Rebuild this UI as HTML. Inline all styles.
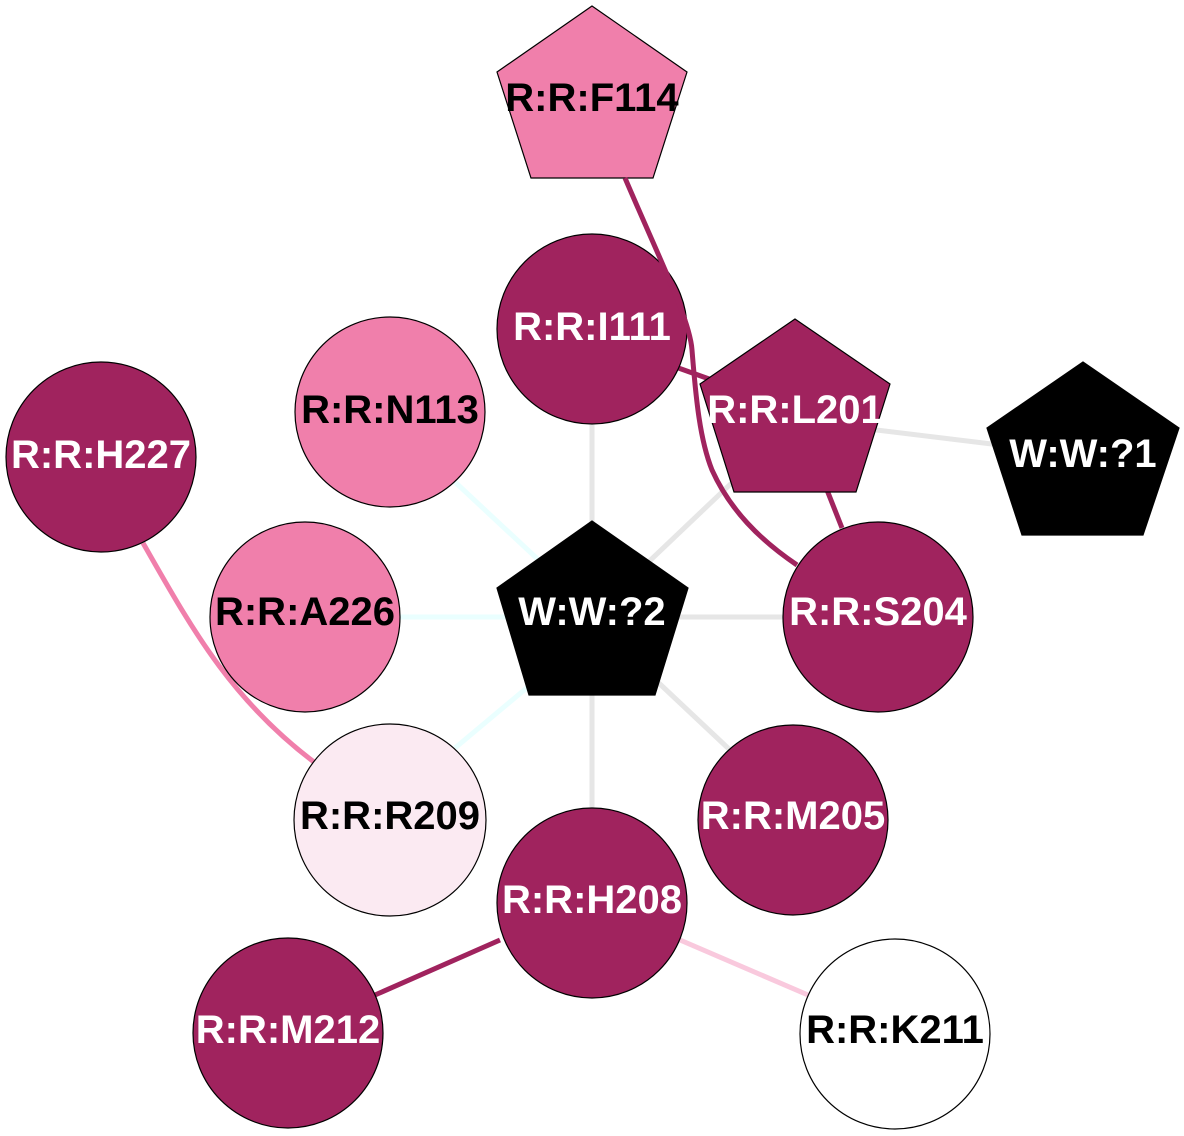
<!DOCTYPE html>
<html><head><meta charset="utf-8"><style>
html,body{margin:0;padding:0;background:#fff;}
svg{display:block;}
text{font-family:"Liberation Sans",Arial,sans-serif;font-weight:bold;font-size:40px;text-anchor:middle;dominant-baseline:central;}
</style></head><body>
<svg width="1184" height="1136" viewBox="0 0 1184 1136" xmlns="http://www.w3.org/2000/svg">
<g fill="none" stroke-width="5">
<line x1="592" y1="425" x2="592" y2="560" stroke="#e6e6e6"/>
<line x1="640" y1="570" x2="740" y2="475" stroke="#e6e6e6"/>
<line x1="660" y1="617" x2="790" y2="617" stroke="#e6e6e6"/>
<line x1="645" y1="670" x2="730" y2="750" stroke="#e6e6e6"/>
<line x1="592" y1="680" x2="592" y2="810" stroke="#e6e6e6"/>
<line x1="860" y1="428" x2="1000" y2="445" stroke="#e6e6e6"/>
<line x1="455" y1="482" x2="560" y2="580" stroke="#eaffff"/>
<line x1="395" y1="617" x2="530" y2="617" stroke="#eaffff"/>
<line x1="455" y1="748" x2="560" y2="660" stroke="#eaffff"/>
<path d="M143 543 C190 625,230 700,318 765" stroke="#f07fab"/>
<line x1="500" y1="940" x2="375" y2="995" stroke="#a0235e"/>
<line x1="680" y1="940" x2="808" y2="995" stroke="#f9c9dd"/>
<line x1="670" y1="365" x2="712" y2="380" stroke="#a0235e"/>
<line x1="825" y1="485" x2="842" y2="528" stroke="#a0235e"/>
</g>
<g stroke="#000" stroke-width="1.2">
<polygon points="592,6 687,72 653,178 531,178 497,72" fill="#f07fab"/>
<circle cx="592" cy="329" r="95" fill="#a0235e"/>
<circle cx="390" cy="412" r="95" fill="#f07fab"/>
<circle cx="101" cy="457" r="95" fill="#a0235e"/>
<polygon points="795,319 890,384 856,492 734,492 700,384" fill="#a0235e"/>
<polygon points="1083,362 1179,428 1143,535 1022,535 987,428" fill="#000"/>
<circle cx="305" cy="617" r="95" fill="#f07fab"/>
<polygon points="592,521 688,588 655,695 529,695 497,588" fill="#000"/>
<circle cx="878" cy="617" r="95" fill="#a0235e"/>
<circle cx="390" cy="820" r="96" fill="#fbeaf2"/>
<circle cx="793" cy="820" r="95" fill="#a0235e"/>
<circle cx="592" cy="903" r="95" fill="#a0235e"/>
<circle cx="288" cy="1033" r="95" fill="#a0235e"/>
<circle cx="895" cy="1034" r="95" fill="#fff"/>
</g>
<path d="M625 178 C660 260,690 320,692 350 C696 400,700 440,712 470 C730 510,760 540,797 565" fill="none" stroke="#a0235e" stroke-width="5"/>
<text x="592" y="98" fill="#000">R:R:F114</text>
<text x="592" y="327" fill="#fff">R:R:I111</text>
<text x="390" y="410" fill="#000">R:R:N113</text>
<text x="101" y="455" fill="#fff">R:R:H227</text>
<text x="795" y="410" fill="#fff">R:R:L201</text>
<text x="1083" y="454" fill="#fff">W:W:?1</text>
<text x="305" y="612" fill="#000">R:R:A226</text>
<text x="592" y="612" fill="#fff">W:W:?2</text>
<text x="878" y="612" fill="#fff">R:R:S204</text>
<text x="390" y="816" fill="#000">R:R:R209</text>
<text x="793" y="816" fill="#fff">R:R:M205</text>
<text x="592" y="900" fill="#fff">R:R:H208</text>
<text x="288" y="1030" fill="#fff">R:R:M212</text>
<text x="895" y="1030" fill="#000">R:R:K211</text>
</svg>
</body></html>
